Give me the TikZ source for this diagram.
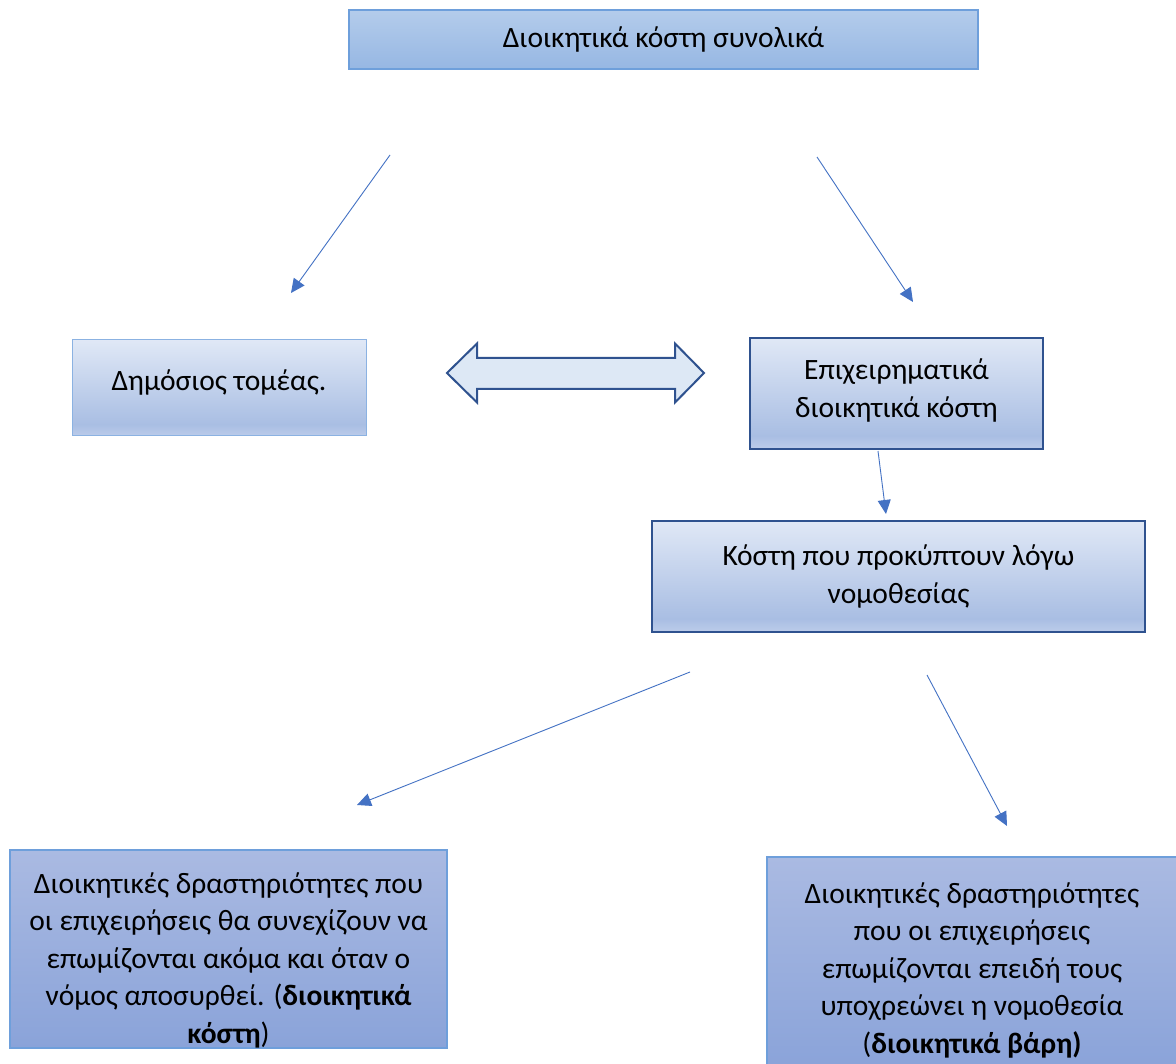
\documentclass[tikz,border=0pt]{standalone}
\usepackage{fontspec}
\setmainfont{Carlito}
\usetikzlibrary{arrows.meta}
\definecolor{topT}{HTML}{B4CCEB}
\definecolor{topB}{HTML}{96B7E3}
\definecolor{lgT}{HTML}{E0E8F6}
\definecolor{lgM}{HTML}{A9BEE3}
\definecolor{lgB}{HTML}{BCCCEA}
\definecolor{dkT}{HTML}{AABAE2}
\definecolor{dkB}{HTML}{8AA3D9}
\definecolor{bdLight}{HTML}{6E9FDB}
\definecolor{bdDark}{HTML}{2F528F}
\definecolor{arr}{HTML}{4472C4}
\definecolor{dblFill}{HTML}{DDE8F5}
\pgfdeclareverticalshading{topsh}{100bp}{color(0bp)=(topB); color(25bp)=(topB); color(75bp)=(topT); color(100bp)=(topT)}
\pgfdeclareverticalshading{lightsh}{100bp}{color(0bp)=(lgB); color(25bp)=(lgB); color(31bp)=(lgM); color(75bp)=(lgT); color(100bp)=(lgT)}
\pgfdeclareverticalshading{darksh}{100bp}{color(0bp)=(dkB); color(25bp)=(dkB); color(75bp)=(dkT); color(100bp)=(dkT)}
\tikzset{
  txt/.style={font=\fontsize{29.5}{37.5}\selectfont, align=center, text=black, inner sep=0pt},
  boxbase/.style={rectangle, inner sep=0pt, outer sep=0pt},
  topbox/.style={boxbase, shading=topsh, draw=bdLight, line width=1.2pt},
  pubbox/.style={boxbase, shading=lightsh, draw=bdLight!80!white, line width=1pt},
  bizbox/.style={boxbase, shading=lightsh, draw=bdDark, line width=2pt},
  botbox/.style={boxbase, shading=darksh, draw=bdLight, line width=1.2pt},
  conn/.style={draw=arr, line width=0.9pt, -{Triangle[length=14pt,width=13pt]}, arr},
}
\begin{document}
\begin{tikzpicture}[x=1pt,y=-1pt]
\useasboundingbox (0,0) rectangle (1176,1064);
\fill[white] (0,0) rectangle (1176,1064);

% boxes
\node[topbox, minimum width=629pt, minimum height=59pt] (top) at (663.5,39.5) {};
\node[txt] (toptxt) at (top.center) {Διοικητικά κόστη συνολικά};

\node[pubbox, minimum width=294pt, minimum height=96pt] (pub) at (219,388) {};
\node[txt] (pubtxt) at ([yshift=6pt]pub.center) {Δημόσιος τομέας.};

\node[bizbox, minimum width=293pt, minimum height=111pt] (biz) at (896.5,393.5) {};
\node[txt] (biztxt) at ([yshift=3pt]biz.center) {Επιχειρηματικά\\διοικητικά κόστη};

\node[bizbox, minimum width=493pt, minimum height=111pt] (law) at (898.5,576.5) {};
\node[txt] (lawtxt) at ([yshift=0pt]law.center) {Κόστη που προκύπτουν λόγω\\νομοθεσίας};

\node[botbox, minimum width=437pt, minimum height=198pt] (bl) at (228.5,949) {};
\node[txt] (bltxt) at ([yshift=-11pt]bl.center) {Διοικητικές δραστηριότητες που\\οι επιχειρήσεις θα συνεχίζουν να\\επωμίζονται ακόμα και όταν ο\\νόμος αποσυρθεί. (\textbf{διοικητικά}\\\textbf{κόστη})};

\node[botbox, minimum width=410pt, minimum height=212pt] (br) at (972,963) {};
\node[txt] (brtxt) at ([yshift=-7pt]br.center) {Διοικητικές δραστηριότητες\\που οι επιχειρήσεις\\επωμίζονται επειδή τους\\υποχρεώνει η νομοθεσία\\(\textbf{διοικητικά βάρη)}};

% double arrow
\draw[fill=dblFill, draw=bdDark, line width=2pt, line join=miter]
  (447,373) -- (477,343.5) -- (477,358) -- (675,358) -- (675,343.5) -- (704,373)
  -- (675,402.5) -- (675,389) -- (477,389) -- (477,402.5) -- cycle;

% connectors
\coordinate (a1) at (390,155);  \coordinate (a2) at (291,293);
\coordinate (b1) at (817,157);  \coordinate (b2) at (913,302);
\coordinate (c1) at (878,451);  \coordinate (c2) at (886,514);
\coordinate (d1) at (690,672);  \coordinate (d2) at (357,805);
\coordinate (e1) at (927,675);  \coordinate (e2) at (1007,826);
\draw[conn] (a1) -- (a2);
\draw[conn] (b1) -- (b2);
\draw[conn] (c1) -- (c2);
\draw[conn] (d1) -- (d2);
\draw[conn] (e1) -- (e2);
\end{tikzpicture}
\end{document}
